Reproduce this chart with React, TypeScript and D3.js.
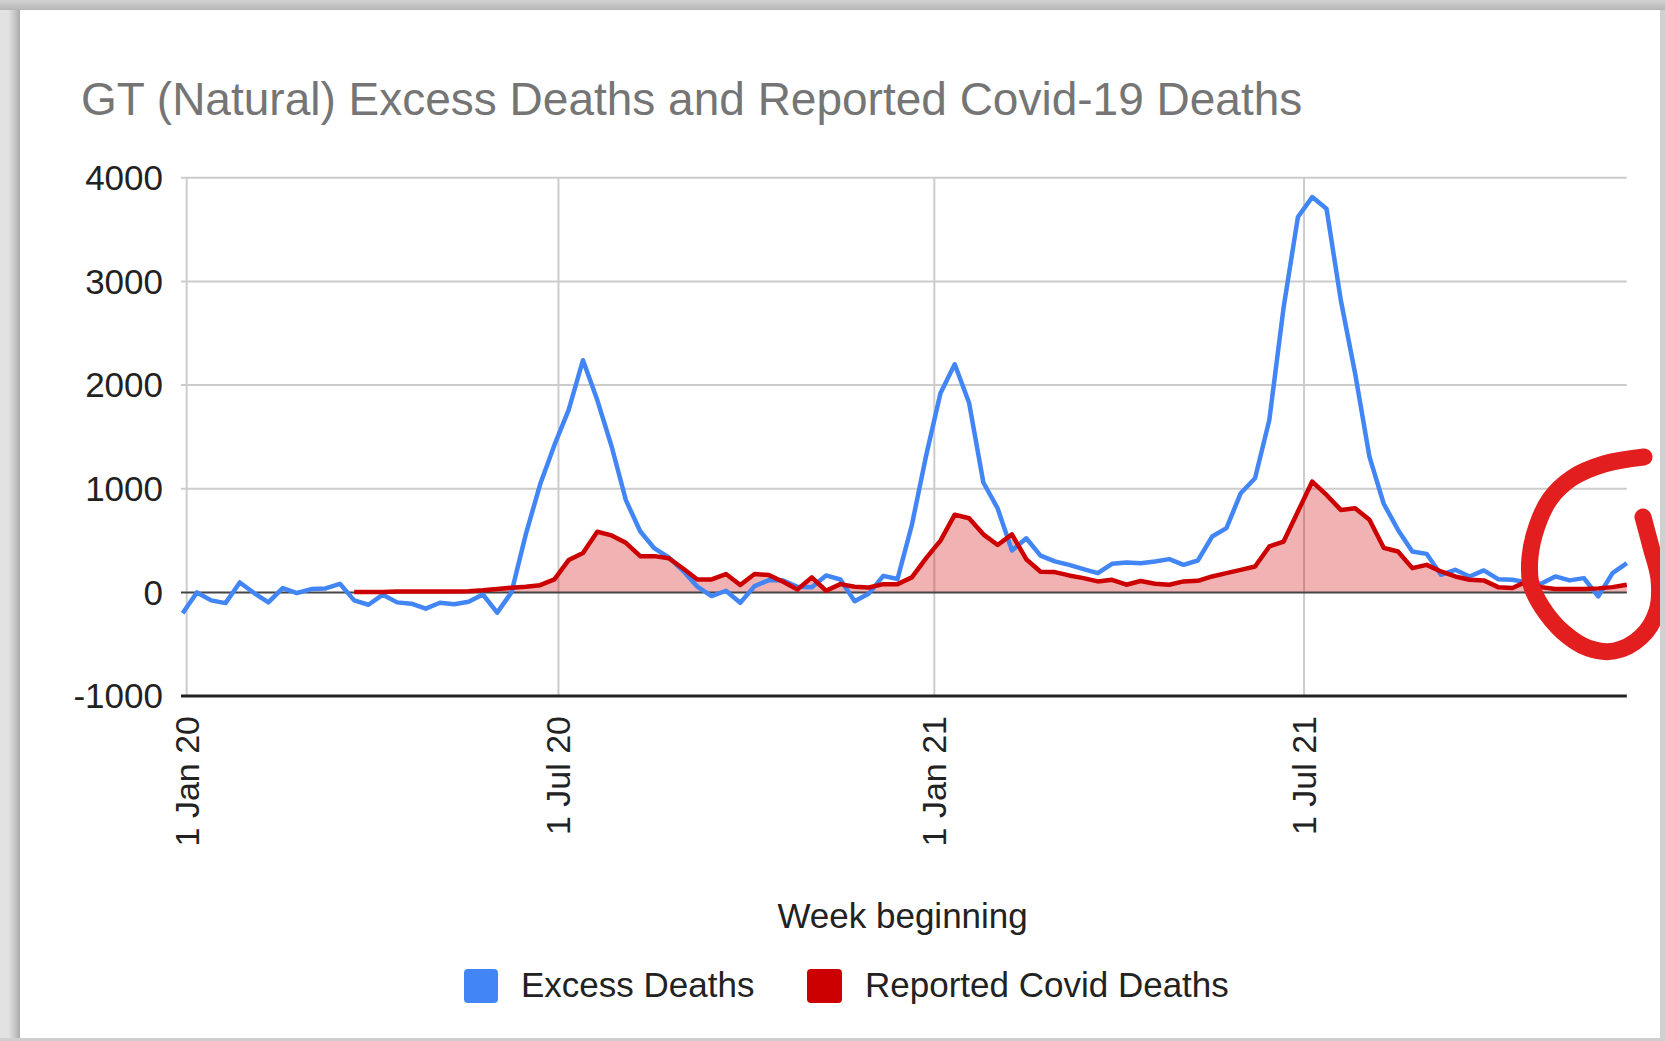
import React from "react";
import * as d3 from "d3";

const FIRST_WEEK = Date.UTC(2019, 11, 30);
const WEEK_MS = 7 * 24 * 3600 * 1000;

const excessDeaths = [
  -200, 0, -77, -103, 96, -6, -96, 42, -6, 32, 38, 83, -77, -119, -22, -96, -109, -157, -100, -114,
  -90, -20, -195, 0, 560, 1040, 1420, 1760, 2240, 1855, 1410, 890, 590, 424, 338, 209, 55, -35, 16, -100,
  61, 119, 115, 55, 50, 164, 125, -85, -10, 160, 130, 650, 1320, 1920, 2200, 1830, 1060, 810, 405, 522,
  355, 300, 266, 225, 186, 276, 289, 282, 299, 321, 266, 308, 539, 620, 957, 1101, 1663, 2750, 3621, 3813,
  3701, 2818, 2112, 1310, 855, 603, 395, 372, 170, 218, 154, 212, 128, 122, 96, 83, 154, 116, 138, -39,
  186, 282,
];

const reportedCovid: (number | null)[] = [
  null, null, null, null, null, null, null, null, null, null, null, null, 5, 5, 5, 8, 8, 10, 10, 10,
  12, 20, 33, 45, 55, 70, 125, 312, 380, 585, 550, 478, 350, 350, 330, 231, 125, 125, 177, 71,
  177, 167, 103, 29, 145, 16, 80, 55, 48, 80, 80, 145, 330, 500, 750, 715, 560, 458, 560, 320,
  200, 196, 164, 138, 106, 122, 74, 110, 83, 74, 106, 112, 154, 186, 218, 250, 443, 491, 780, 1069,
  940, 796, 812, 700, 430, 395, 234, 266, 202, 154, 122, 116, 51, 42, 106, 51, 32, 32, 32, 39,
  51, 74,
];

const weeks = excessDeaths.map((_, i) => new Date(FIRST_WEEK + i * WEEK_MS));

const yTicks = [-1000, 0, 1000, 2000, 3000, 4000];
const xTickDates = [Date.UTC(2020, 0, 1), Date.UTC(2020, 6, 1), Date.UTC(2021, 0, 1), Date.UTC(2021, 6, 1)];
const xTickLabels = ["1 Jan 20", "1 Jul 20", "1 Jan 21", "1 Jul 21"];

const seriesNames = ["Excess Deaths", "Reported Covid Deaths"];
const seriesColors = ["#4285f4", "#cc0000"];

const TITLE = "GT (Natural) Excess Deaths and Reported Covid-19 Deaths";
const X_TITLE = "Week beginning";

// hand-drawn annotation circle (pixel coordinates of the overlay scribble)
const scribble: [number, number][] = [
  [1644, 457], [1604, 464], [1572, 478], [1550, 499], [1537, 526], [1530, 557], [1531, 584],
  [1542, 607], [1563, 632], [1588, 648], [1614, 651], [1641, 637], [1657, 611], [1659, 579],
  [1651, 547], [1643, 517],
];

const W = 1665;
const H = 1041;
const FONT = "'Liberation Sans', Arial, Helvetica, sans-serif";

export default function App() {
  const x = d3
    .scaleUtc()
    .domain([weeks[0], weeks[weeks.length - 1]])
    .range([182.6, 1626.8]);
  const y = d3.scaleLinear().domain([-1000, 4000]).range([696.1, 177.7]);

  const blueLine = d3
    .line<number>()
    .x((_, i) => x(weeks[i]))
    .y((d) => y(d))(excessDeaths) as string;

  const redIdx = reportedCovid.map((_, i) => i).filter((i) => reportedCovid[i] !== null);
  const redLine = d3
    .line<number>()
    .x((i) => x(weeks[i]))
    .y((i) => y(reportedCovid[i] as number))(redIdx) as string;
  const redArea = d3
    .area<number>()
    .x((i) => x(weeks[i]))
    .y0(y(0))
    .y1((i) => y(reportedCovid[i] as number))(redIdx) as string;

  const scribblePath = d3.line().curve(d3.curveCatmullRom.alpha(0.5))(scribble) as string;

  const gridX0 = 181;
  const gridX1 = 1626.8;

  return (
    <svg
      width={W}
      height={H}
      style={{ position: "absolute", left: 0, top: 0, display: "block" }}
      fontFamily={FONT}
    >
      <defs>
        <linearGradient id="leftShade" x1="0" x2="1" y1="0" y2="0">
          <stop offset="0" stopColor="#e4e4e4" />
          <stop offset="0.6" stopColor="#c4c4c4" />
          <stop offset="1" stopColor="#a9a9a9" />
        </linearGradient>
        <linearGradient id="topShade" x1="0" x2="0" y1="0" y2="1">
          <stop offset="0" stopColor="#d2d2d2" />
          <stop offset="1" stopColor="#b6b6b6" />
        </linearGradient>
      </defs>
      <rect x={0} y={0} width={W} height={H} fill="#e2e2e2" />
      <rect x={0} y={0} width={W} height={10} fill="url(#topShade)" />
      <rect x={8} y={10} width={12} height={H - 10} fill="url(#leftShade)" />
      <rect x={20} y={10} width={1640} height={1028} fill="#ffffff" />

      {/* title */}
      <text x={81} y={115} fontSize={46} fill="#757575">
        {TITLE}
      </text>

      {/* horizontal gridlines */}
      {yTicks
        .filter((t) => t > 0)
        .map((t) => (
          <line key={"h" + t} x1={gridX0} x2={gridX1} y1={y(t)} y2={y(t)} stroke="#cccccc" strokeWidth={2} />
        ))}
      {/* vertical gridlines */}
      {xTickDates.map((d) => (
        <line
          key={"v" + d}
          x1={x(new Date(d))}
          x2={x(new Date(d))}
          y1={y(4000)}
          y2={y(-1000)}
          stroke="#cccccc"
          strokeWidth={2}
        />
      ))}

      {/* red area */}
      <path d={redArea} fill="#cc0000" fillOpacity={0.3} stroke="none" />

      {/* zero line */}
      <line x1={gridX0} x2={gridX1} y1={y(0)} y2={y(0)} stroke="#444444" strokeWidth={2} />
      {/* baseline */}
      <line x1={gridX0} x2={gridX1} y1={y(-1000)} y2={y(-1000)} stroke="#222222" strokeWidth={3} />

      {/* lines */}
      <path d={blueLine} fill="none" stroke={seriesColors[0]} strokeWidth={4.5} strokeLinejoin="round" />
      <path d={redLine} fill="none" stroke={seriesColors[1]} strokeWidth={4.5} strokeLinejoin="round" />

      {/* y tick labels */}
      {yTicks.map((t) => (
        <text key={"yl" + t} x={163} y={y(t)} dy="0.35em" textAnchor="end" fontSize={35} fill="#222222">
          {t}
        </text>
      ))}

      {/* x tick labels */}
      {xTickDates.map((d, i) => (
        <text
          key={"xl" + d}
          transform={`translate(${x(new Date(d))},716) rotate(-90)`}
          dy="0.35em"
          textAnchor="end"
          fontSize={34}
          fill="#222222"
        >
          {xTickLabels[i]}
        </text>
      ))}

      {/* x axis title */}
      <text x={902.6} y={928} textAnchor="middle" fontSize={35} fill="#222222">
        {X_TITLE}
      </text>

      {/* legend */}
      <rect x={464} y={969} width={34} height={34} rx={4} fill={seriesColors[0]} />
      <text x={521} y={997} fontSize={35} fill="#222222">
        {seriesNames[0]}
      </text>
      <rect x={807} y={969} width={35} height={34} rx={4} fill={seriesColors[1]} />
      <text x={865} y={997} fontSize={35} fill="#222222">
        {seriesNames[1]}
      </text>

      {/* annotation scribble */}
      <path d={scribblePath} fill="none" stroke="#e21e1e" strokeWidth={17} strokeLinecap="round" strokeLinejoin="round" />

      {/* right card edge */}
      <rect x={1660} y={10} width={5} height={H - 10} fill="#d0d0d0" />
      <rect x={0} y={1038} width={W} height={3} fill="#cfcfcf" />
    </svg>
  );
}
